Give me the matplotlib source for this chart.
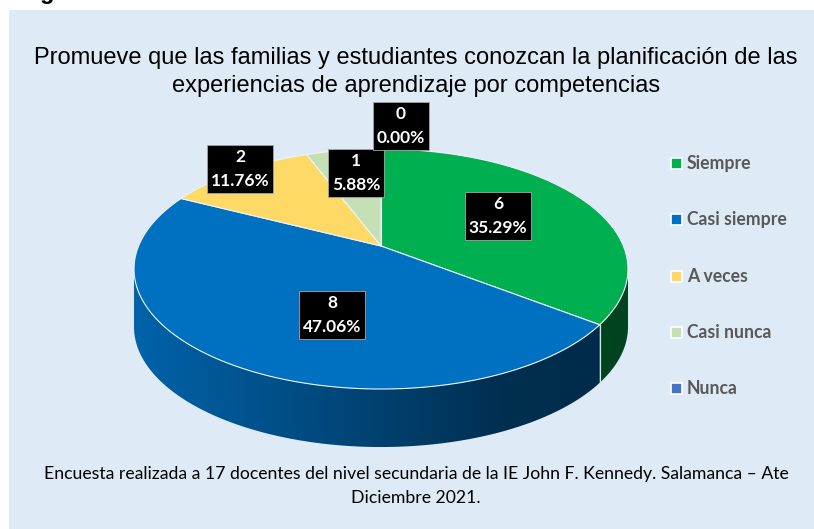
import numpy as np
import matplotlib
matplotlib.use('Agg')
import matplotlib.pyplot as plt
from matplotlib.patches import Polygon, Rectangle

# Datos de la encuesta
categorias = ['Siempre', 'Casi siempre', 'A veces', 'Casi nunca', 'Nunca']
valores = [6, 8, 2, 1, 0]
colores = ['#00B050', '#0070C0', '#FFD966', '#C5E0B4', '#4472C4']

titulo = ('Promueve que las familias y estudiantes conozcan la planificación de las\n'
          'experiencias de aprendizaje por competencias')
nota = ('Encuesta realizada a 17 docentes del nivel secundaria de la IE John F. Kennedy. Salamanca \u2013 Ate\n'
        'Diciembre 2021.')

# Posiciones de las etiquetas (pixeles de la imagen)
pos_etiquetas = [(498, 216), (332, 315), (240, 169), (356, 173), (401, 126)]

# Geometria del pastel 3D (proyeccion en perspectiva de un circulo)
CX, CY = 381.0, 246.0
A, B, G = 242.4, 115.6, 0.1917
PROF = 58.0
FONDO = '#DEEAF6'


def proyectar(t, r=1.0):
    x = r * np.cos(t)
    y = r * np.sin(t)
    w = 1 + G * y
    return CX + A * x / w, CY - B * y / w


def factor_sombra(x):
    # oscurecimiento de la pared lateral de izquierda a derecha
    return np.interp(x, [134, 250, 380, 500, 630], [0.88, 0.74, 0.58, 0.42, 0.38])


fig = plt.figure(figsize=(8.14, 5.29), dpi=100)
fig.patch.set_facecolor('white')
ax = fig.add_axes([0, 0, 1, 1])
ax.set_xlim(0, 814)
ax.set_ylim(529, 0)
ax.axis('off')

ax.add_patch(Rectangle((9, 10), 805, 519, facecolor=FONDO, edgecolor='none', zorder=0))
ax.text(47, -1, 'g', fontsize=17, fontweight='bold', family='Liberation Sans',
        ha='center', va='baseline', color='black', zorder=0.5)

total = float(sum(valores))
angulos = []
inicio = np.pi / 2
for v in valores:
    fin = inicio - 2 * np.pi * v / total
    angulos.append((inicio, fin))
    inicio = fin

# paredes visibles (parte frontal)
t_izq = -np.pi + np.arcsin(G)
t_der = -np.arcsin(G)
for (t0, t1), col in zip(angulos, colores):
    if t0 == t1:
        continue
    for desp in (-2 * np.pi, 0, 2 * np.pi):
        lo = max(t1 + desp, t_izq)
        hi = min(t0 + desp, t_der)
        if lo >= hi:
            continue
        tt = np.linspace(lo, hi, 200)
        xs, ys = proyectar(tt)
        pts = np.vstack([np.column_stack([xs, ys]),
                         np.column_stack([xs[::-1], ys[::-1] + PROF])])
        pared = Polygon(pts, closed=True, facecolor='none', edgecolor='none',
                        transform=ax.transData)
        ax.add_patch(pared)
        x0, x1 = xs.min() - 2, xs.max() + 2
        gx = np.linspace(x0, x1, 300)
        base = np.array(matplotlib.colors.to_rgb(col))
        img = np.clip(factor_sombra(gx)[:, None] * base[None, :], 0, 1)[None, :, :]
        im = ax.imshow(img, extent=[x0, x1, ys.max() + PROF + 2, ys.min() - 2],
                       aspect='auto', interpolation='bilinear', zorder=1)
        im.set_clip_path(pared)

# separaciones en la pared
for t0, t1 in angulos:
    for t in (t0, t1):
        tn = (t + np.pi) % (2 * np.pi) - np.pi
        if t_izq < tn < t_der:
            x, y = proyectar(tn)
            ax.plot([x, x], [y, y + PROF], color='#D9E2EC', lw=0.8, zorder=1.5)

# cara superior
for (t0, t1), col in zip(angulos, colores):
    if t0 == t1:
        continue
    tt = np.linspace(t0, t1, 300)
    xs, ys = proyectar(tt)
    pts = np.vstack([[CX, CY], np.column_stack([xs, ys])])
    ax.add_patch(Polygon(pts, closed=True, facecolor=col, edgecolor='#EEF3F8',
                         lw=0.8, zorder=2))

# linea en la posicion del valor cero
x, y = proyectar(np.pi / 2)
ax.plot([CX, x], [CY, y], color='#EEF3F8', lw=0.8, zorder=2.5)

# etiquetas de datos
for v, (px, py) in zip(valores, pos_etiquetas):
    ax.text(px, py, f'{v}\n{v / total * 100:.2f}%', ha='center', va='center',
            fontsize=12.5, fontweight='bold', family='Lato', color='white',
            linespacing=1.6, zorder=5,
            bbox=dict(boxstyle='square,pad=0.22', facecolor='black',
                      edgecolor='#A6A6A6', lw=0.6))

# leyenda
for i, (cat, col) in enumerate(zip(categorias, colores)):
    y = 163.5 + i * 56.3
    ax.add_patch(Rectangle((671, y - 5.5), 11, 11, facecolor=col, edgecolor='white',
                           lw=1.2, zorder=3))
    ax.text(687, y, cat, ha='left', va='center', fontsize=12.7, fontweight='bold',
            family='Lato', color='#595959', zorder=3)

ax.text(416, 72, titulo, ha='center', va='center', fontsize=17,
        family='Liberation Sans', color='black', linespacing=1.4)
ax.text(416, 486, nota, ha='center', va='center', fontsize=12.7,
        family='Lato', color='black', linespacing=1.55)

fig.savefig('out.png', dpi=100, facecolor='white')
